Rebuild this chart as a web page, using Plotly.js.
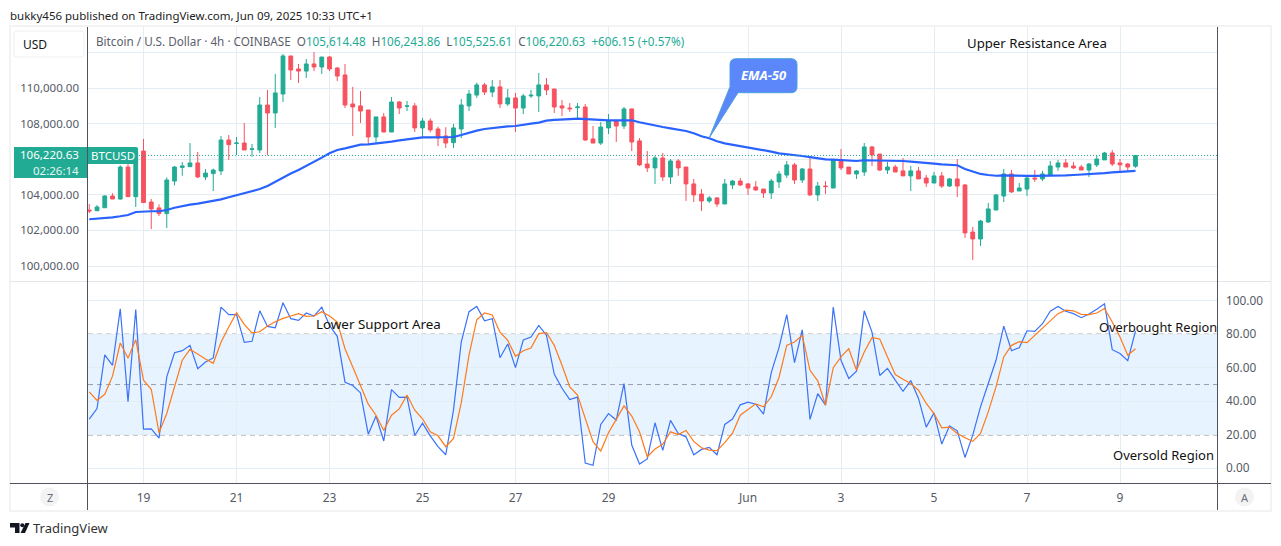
<!DOCTYPE html>
<html><head><meta charset="utf-8">
<script src="https://cdn.plot.ly/plotly-3.0.1.min.js"></script>
<style>html,body{margin:0;padding:0;background:#fff}#c{width:1281px;height:546px}</style>
</head><body><div id="c"></div>
<script>
const openP=[103150,103110,103280,103940,103770,105570,103900,106470,103600,103270,
102950,104780,105550,105590,105800,105010,105200,105350,107090,106900,
106920,106570,106530,109060,108610,109680,111820,111090,110970,111370,
111200,111760,111140,110750,109120,109010,108780,107260,108390,107540,
109230,108990,109010,107770,108160,107710,107320,106940,107710,109010,
109620,110190,109790,110080,109120,109460,108890,109570,109570,110190,
109960,109010,108890,108910,108950,107150,106920,107770,108160,107880,
108840,107040,105740,105520,106080,105010,105910,105570,104620,104050,
103660,103830,103490,104560,104780,104620,104450,104330,104110,104730,
105120,105690,104840,105460,104000,104500,104390,105910,105570,105180,
105290,106700,106300,105400,105570,105350,105070,105350,104950,104670,
105070,104500,104900,104560,101910,101520,102480,103150,103940,105180,
104220,104330,104950,104900,105120,105570,105800,105630,105570,105400,
105690,105970,106360,105800,105740,105614.48];
const closeP=[103100,103320,103940,103770,105570,103900,106470,103570,103210,102950,
104840,105570,105630,105800,105010,105230,105400,107090,106830,106920,
106530,106590,109060,108610,109740,111820,111030,110970,111370,111200,
111760,111090,110690,109060,108950,108720,107260,108390,107540,109230,
108890,109010,107770,108160,107660,107200,106920,107770,109060,109680,
110190,109790,110080,109120,109460,108890,109570,109610,110190,109910,
108950,108890,108850,108950,107090,106920,107820,108160,107880,108840,
106980,105690,105520,106080,105010,105910,105520,104620,104000,103660,
103830,103490,104620,104780,104560,104390,104280,104110,104780,105180,
105690,104840,105460,104000,104500,104470,105970,105520,105180,105350,
106700,106250,105400,105570,105290,105070,105350,104900,104670,105070,
104500,104900,104500,101860,101520,102530,103210,104000,105180,104170,
104390,104950,104900,105180,105630,105800,105570,105520,105400,105740,
106020,106360,105740,105690,105570,106220.63];
const highP=[103490,103430,103980,104090,105670,105740,106620,107150,103770,103470,
104990,105630,105850,106920,106420,105460,105480,107320,107370,107260,
108050,106870,109510,109910,110810,111930,111820,111370,111650,112040,
111760,111820,111200,111370,110080,109850,108780,108390,108610,109510,
109290,109290,109170,108330,108310,107840,107810,107990,109400,109910,
110320,110300,110470,110470,109960,109740,109680,109910,110860,110580,
109960,109340,109170,109170,109120,107880,108110,108550,108160,108950,
108840,107200,106470,106190,106360,106020,106020,105570,104900,104330,
103940,103880,104900,104840,104950,104670,104780,104330,104900,105350,
105910,105800,105520,106080,104730,104780,106020,106590,105570,105400,
106920,106750,106300,105850,105690,106080,105630,105570,105120,105290,
105290,104950,106020,104620,102200,102590,103550,104050,105460,105400,
104670,105120,105400,105350,105910,105970,106020,105850,105690,105800,
106190,106420,106530,106020,105800,106243.86];
const lowP=[102970,103100,103270,103770,103730,103900,103320,103570,102080,102810,
102140,104540,105080,105590,104950,104840,104220,105120,105970,106250,
106530,106150,106360,106230,107770,109230,110470,110300,110580,110970,
110810,110970,110410,108890,107320,108050,106810,106920,107540,107540,
108550,108720,107540,107260,107520,106750,106640,106640,107200,108720,
109460,109620,109510,108890,109010,107540,108550,109460,108670,109620,
108610,108440,108670,108270,107040,106920,106810,107430,106980,107710,
106470,105630,105290,104620,104780,104620,105070,103660,103600,103100,
103550,103320,103490,104330,104500,104000,104220,103830,103770,104390,
104950,104620,104670,103940,103660,104050,104390,105400,105180,104900,
105070,105630,105350,105180,105290,105070,104220,104900,104450,104670,
104390,104450,103880,101580,100340,101130,102420,103150,103600,104110,
104220,103940,104730,104780,105070,105350,105570,105460,105400,105010,
105570,105970,105630,105290,105290,105525.61];
const ema50=[102630,102660,102700,102740,102800,102870,103040,103080,103080,103080,
103150,103280,103380,103450,103510,103580,103640,103750,103870,103980,
104070,104180,104330,104500,104730,104990,105200,105400,105630,105830,
106100,106340,106530,106620,106740,106830,106850,106890,106920,107000,
107070,107130,107170,107240,107240,107240,107240,107260,107370,107500,
107620,107710,107770,107820,107860,107880,107960,108010,108070,108180,
108220,108260,108270,108290,108260,108220,108200,108200,108200,108220,
108200,108090,107990,107920,107820,107750,107670,107600,107470,107300,
107190,107020,106900,106830,106750,106680,106620,106530,106440,106340,
106300,106270,106190,106130,106060,106000,105990,105950,105930,105910,
105950,105950,105950,105950,105930,105910,105870,105820,105780,105760,
105720,105700,105670,105460,105310,105180,105120,105080,105100,105080,
105070,105070,105070,105070,105080,105080,105100,105120,105140,105160,
105200,105230,105270,105290,105310,105350];
const rsi=[29.4,35.7,67.7,61.5,95.2,39.7,94.8,23.4,23.6,18,
54.6,69,70.2,73.4,59.5,63.5,65.9,96.2,91.7,91.7,
75.2,75.8,94,84.7,83.9,98.8,89.3,88.3,92.7,90.9,
96.2,85.3,78.8,51.4,49.4,45,20.4,31.2,16.3,47,
42.3,42.5,19.6,27,19.4,12.9,8.1,34.7,75.4,93.5,
96.6,88.1,89.3,66,74.2,60.1,76.6,78.4,85.3,79.4,
56.2,47.8,41.1,42.5,3.2,1.8,26.2,32.7,28.8,50.6,
13.9,2.6,5.6,27.2,10.7,28.6,20.8,18.8,8.1,11.3,
12.5,8.1,26.2,29.4,37.9,39.5,38.3,32.3,57.1,72,
91.7,63.1,82.7,29.2,44.6,37.7,96.2,64.5,53.6,58,
94,81.3,55.4,59.7,52.6,46,52.4,41.7,24.6,33.1,
14.5,25.4,22.4,6.5,19.8,36.7,50.6,64.5,84.9,70.2,
72,82.1,81.7,86.3,93.8,96.6,93.7,92.3,89.9,92.1,
95,98.2,70.8,68.5,64.3,81.9];
const rsiMA=[45.6,40.5,44.2,55,74.8,65.7,76.8,52.6,47.2,21.2,
32.7,48.6,64.5,71,68,65.3,62.7,75.2,84.3,92.9,
85.9,80.8,81.5,84.9,87.5,89.5,90.9,92.3,90.7,90.9,
93.5,90.9,87.3,71.4,60.5,49,38.3,31.7,22.6,31.7,
35.5,43.8,34.7,29.6,21.8,19.4,12.9,17.9,39.1,67.5,
88.7,92.7,91.5,81.2,76.4,66.9,70.2,71.8,80.4,81,
73.4,61.5,48.6,43.7,29.6,15.9,10.3,21.2,29.2,37.3,
31.2,21.8,6.9,11.5,14.3,21.8,20.2,22.6,16.1,12.3,
10.9,10.5,15.3,21,31.7,35.3,38.5,36.7,42.7,54.2,
73.4,75.4,79.4,58.5,52.2,37.7,60.1,66.5,71.4,58.5,
69.4,78,77.2,66.5,56,53.2,50.6,46.6,38.7,32.7,
24.2,24.6,20.8,18.3,16.1,20.8,33.7,48.6,66.5,73.4,
75.6,75,79.2,83.3,87.7,92.3,94.4,94,91.9,91.7,
92.7,95.4,87.3,78.4,67.5,71.4];
const dayTickVals=['2025-05-19','2025-05-21','2025-05-23','2025-05-25','2025-05-27','2025-05-29','2025-06-01','2025-06-03','2025-06-05','2025-06-07','2025-06-09'];
const dayTickText=['19','21','23','25','27','29','Jun','3','5','7','9'];
const priceTickVals=[100000,102000,104000,106000,108000,110000,112000];
const priceTickText=['100,000.00','102,000.00','104,000.00','','108,000.00','110,000.00',''];
const rsiTickVals=[0,20,40,60,80,100];
const rsiTickText=['0.00','20.00','40.00','60.00','80.00','100.00'];
const lastPrice=106220.63;

const W=1281,H=546,FONT='"Noto Sans",sans-serif';
const fx=p=>p/W, fy=p=>1-p/H;
const times=openP.map((_,i)=>new Date(Date.UTC(2025,4,17,20)+i*4*3600e3).toISOString().slice(0,16).replace('T',' '));
const UP='#22ab94',DOWN='#f7525f',GRID='#e4edf4',FRAME='#50535e',TXT='#555a66';
const path=(d)=>d.map(s=>typeof s==='string'?s:fx(s[0])+','+fy(s[1])).join(' ');

const traces=[
 {type:'candlestick',x:times,open:openP,high:highP,low:lowP,close:closeP,xaxis:'x',yaxis:'y',
  increasing:{line:{color:UP,width:1},fillcolor:UP},decreasing:{line:{color:DOWN,width:1},fillcolor:DOWN},
  whiskerwidth:0,showlegend:false,hoverinfo:'skip'},
 {type:'scatter',mode:'lines',x:times,y:ema50,xaxis:'x',yaxis:'y',line:{color:'#2962ff',width:2.2},showlegend:false,hoverinfo:'skip'},
 {type:'scatter',mode:'lines',x:times,y:rsi,xaxis:'x',yaxis:'y2',line:{color:'#3a72f8',width:1.2},showlegend:false,hoverinfo:'skip'},
 {type:'scatter',mode:'lines',x:times,y:rsiMA,xaxis:'x',yaxis:'y2',line:{color:'#ff7a1a',width:1.2},showlegend:false,hoverinfo:'skip'}
];

function pxLine(x0,y0,x1,y1,color,width,dash){
 return {type:'line',xref:'paper',yref:'paper',x0:fx(x0),y0:fy(y0),x1:fx(x1),y1:fy(y1),line:{color,width,dash:dash||'solid'},layer:'above'};
}
const shapes=[
 {type:'rect',xref:'paper',yref:'y2',x0:fx(88),x1:fx(1217),y0:20,y1:80,fillcolor:'rgba(33,150,243,0.11)',line:{width:0},layer:'below'},
 {type:'line',xref:'paper',yref:'y2',x0:fx(88),x1:fx(1217),y0:80,y1:80,line:{color:'#4a4d57',width:1,dash:'5px,4px'},layer:'below'},
 {type:'line',xref:'paper',yref:'y2',x0:fx(88),x1:fx(1217),y0:50,y1:50,line:{color:'rgba(120,123,134,0.7)',width:1,dash:'5px,4px'},layer:'below'},
 {type:'line',xref:'paper',yref:'y2',x0:fx(88),x1:fx(1217),y0:20,y1:20,line:{color:'#4a4d57',width:1,dash:'5px,4px'},layer:'below'},
 {type:'line',xref:'paper',yref:'y',x0:fx(88),x1:fx(1217),y0:lastPrice,y1:lastPrice,line:{color:UP,width:1,dash:'1px,2px'},layer:'above'},
 {type:'rect',xref:'paper',yref:'paper',x0:fx(10),x1:fx(1271),y0:fy(511),y1:fy(26),line:{color:'#f3f3f3',width:2},layer:'above'},
 pxLine(10,281.5,1271,281.5,'#e3e5ea',1),
 pxLine(10,483.5,1271,483.5,FRAME,1),
 pxLine(87.5,27,87.5,510,FRAME,1),
 pxLine(1217.5,27,1217.5,510,FRAME,1),
 {type:'path',xref:'paper',yref:'paper',layer:'above',fillcolor:'#fff',line:{color:'#efefef',width:1},
  path:path(['M',[17,31],'L',[81,31],'Q',[84,31],[84,34],'L',[84,54],'Q',[84,57],[81,57],'L',[17,57],'Q',[14,57],[14,54],'L',[14,34],'Q',[14,31],[17,31],'Z'])},
 {type:'rect',xref:'paper',yref:'paper',x0:fx(14),x1:fx(87),y0:fy(178),y1:fy(147),fillcolor:UP,line:{width:0},layer:'above'},
 {type:'path',xref:'paper',yref:'paper',layer:'above',fillcolor:UP,line:{width:0},
  path:path(['M',[88,147],'L',[136,147],'Q',[138,147],[138,149],'L',[138,162],'Q',[138,164],[136,164],'L',[88,164],'Z'])},
 {type:'path',xref:'paper',yref:'paper',layer:'above',fillcolor:'#5b87fb',line:{color:'#4aa0dc',width:1},
  path:path(['M',[736,58.7],'L',[791,58.7],'Q',[797,58.7],[797,64.7],'L',[797,86.7],'Q',[797,92.7],[791,92.7],'L',[738,92.7],'L',[709.3,137.7],'L',[730,86.7],'L',[730,64.7],'Q',[730,58.7],[736,58.7],'Z'])},
 {type:'circle',xref:'paper',yref:'paper',x0:fx(40),x1:fx(59),y0:fy(506.5),y1:fy(487.5),fillcolor:'#f3f3f3',line:{width:0},layer:'above'},
 {type:'circle',xref:'paper',yref:'paper',x0:fx(1235),x1:fx(1254),y0:fy(506.5),y1:fy(487.5),fillcolor:'#f3f3f3',line:{width:0},layer:'above'},
 {type:'path',xref:'paper',yref:'paper',layer:'above',fillcolor:'#131722',line:{width:0},
  path:path(['M',[10,523],'L',[19.5,523],'L',[19.5,533],'L',[15,533],'L',[15,527.5],'L',[10,527.5],'Z'])},
 {type:'path',xref:'paper',yref:'paper',layer:'above',fillcolor:'#131722',line:{width:0},
  path:path(['M',[25.5,523],'L',[29.5,523],'L',[25,533],'L',[20.5,533],'Z'])},
 {type:'circle',xref:'paper',yref:'paper',x0:fx(20.3),x1:fx(24.3),y0:fy(527.2),y1:fy(523.2),fillcolor:'#131722',line:{width:0},layer:'above'}
];

function ann(text,x,y,anchor,size,color,extra){
 return Object.assign({text,xref:'paper',yref:'paper',x:fx(x),y:fy(y),xanchor:anchor,yanchor:'middle',showarrow:false,
  font:{family:FONT,size,color},borderpad:0,borderwidth:0},extra||{});
}
const val=(s,c)=>'<span style="color:'+c+'">'+s+'</span>';
const G='#5d606b';
const legendText=val('Bitcoin / U.S. Dollar · 4h · COINBASE',G)+'  '+val('O',G)+val('105,614.48',UP)+'  '+val('H',G)+val('106,243.86',UP)+'  '+val('L',G)+val('105,525.61',UP)+'  '+val('C',G)+val('106,220.63',UP)+'  '+val('+606.15 (+0.57%)',UP);
const annotations=[
 ann('bukky456 published on TradingView.com, Jun 09, 2025 10:33 UTC+1',10,15,'left',11.5,'#222'),
 ann('USD',23,44.5,'left',12,'#131722'),
 ann(legendText,96,41.5,'left',11.7,G),
 ann('Upper Resistance Area',1037,43,'center',13.2,'#111'),
 ann('Lower Support Area',378,323.5,'center',13.4,'#111'),
 ann('Overbought Region',1217,326.5,'right',12.8,'#111'),
 ann('Oversold Region',1214,455,'right',13,'#111'),
 ann('106,220.63',79,154.2,'right',11.5,'#fff'),
 ann('02:26:14',79,170.1,'right',11.5,'#e6f5f2'),
 ann('BTCUSD',113,155.5,'center',11.5,'#fff'),
 ann('<b><i>EMA-50</i></b>',763.5,75.5,'center',13,'#fff'),
 ann('Z',49.5,497.5,'center',11,'#6a6d78'),
 ann('A',1245,497.5,'center',11,'#6a6d78'),
 ann('TradingView',33,528,'left',13,'#333')
];
const layout={
 width:W,height:H,paper_bgcolor:'#fff',plot_bgcolor:'#fff',margin:{l:0,r:0,t:0,b:0,pad:0},showlegend:false,
 font:{family:FONT,size:12,color:TXT},
 xaxis:{type:'date',domain:[fx(88),fx(1217)],anchor:'y2',range:['2025-05-17 19:21','2025-06-11 02:04'],
  tickmode:'array',tickvals:dayTickVals,ticktext:dayTickText,showgrid:true,gridcolor:GRID,gridwidth:1,zeroline:false,
  showline:false,ticks:'',ticklabelstandoff:6,tickfont:{family:FONT,size:12,color:TXT},rangeslider:{visible:false},fixedrange:true},
 yaxis:{domain:[fy(281),fy(27)],range:[99156,113450],side:'left',anchor:'x',tickmode:'array',tickvals:priceTickVals,ticktext:priceTickText,
  showgrid:true,gridcolor:GRID,gridwidth:1,zeroline:false,showline:false,ticks:'',ticklabelstandoff:8,tickfont:{family:FONT,size:11.5,color:TXT},fixedrange:true},
 yaxis2:{domain:[fy(483),fy(282)],range:[-8.75,111.2],side:'right',anchor:'x',tickmode:'array',tickvals:rsiTickVals,ticktext:rsiTickText,
  showgrid:true,gridcolor:GRID,gridwidth:1,zeroline:false,showline:false,ticks:'',ticklabelstandoff:8,tickfont:{family:FONT,size:11.8,color:TXT},fixedrange:true},
 shapes,annotations
};
Plotly.newPlot('c',traces,layout,{displayModeBar:false,staticPlot:true});
</script></body></html>
